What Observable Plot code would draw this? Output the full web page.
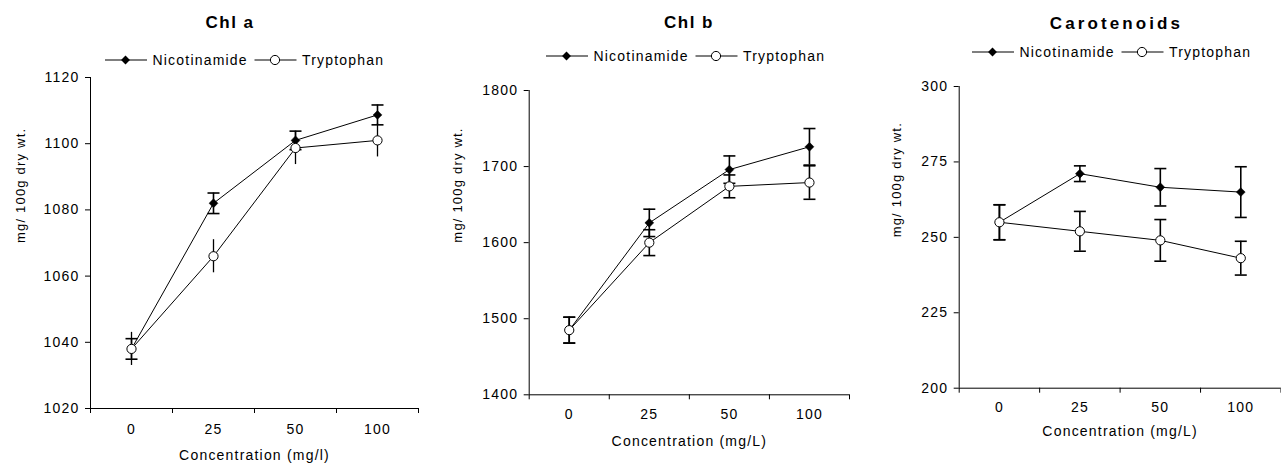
<!DOCTYPE html>
<html><head><meta charset="utf-8">
<script src="https://cdn.jsdelivr.net/npm/d3@7"></script>
<script src="https://cdn.jsdelivr.net/npm/@observablehq/plot@0.6"></script>
<style>
html,body{margin:0;padding:0;background:#fff;}
#root{position:relative;width:1281px;height:465px;overflow:hidden;font-family:"Liberation Sans",Arial,sans-serif;color:#000;}
.panel{position:absolute;top:0;}
.title{position:absolute;font-weight:bold;font-size:17px;transform:translate(-50%,-50%);white-space:nowrap;}
</style></head><body><div id="root"></div>
<script>
// ---- data ----
const concentrations = ["0", "25", "50", "100"];
const seriesNames = ["Nicotinamide", "Tryptophan"];

const chlaNic = [1038, 1082, 1101, 1108.7];
const chlaNicErr = [3.1, 3.1, 2.8, 3];
const chlaTrp = [1038, 1066, 1098.7, 1101];
const chlaTrpErr = [5, 5, 5, 5];
const chlaTicks = [1020, 1040, 1060, 1080, 1100, 1120];

const chlbNic = [1485, 1626, 1696, 1726];
const chlbNicErr = [17, 18, 18, 24];
const chlbTrp = [1485, 1600, 1674, 1679];
const chlbTrpErr = [17, 17, 15, 22];
const chlbTicks = [1400, 1500, 1600, 1700, 1800];

const carNic = [255, 271.1, 266.6, 265];
const carNicErr = [5.8, 2.6, 6.2, 8.4];
const carTrp = [255, 252, 249, 243.1];
const carTrpErr = [5.8, 6.6, 6.9, 5.6];
const carTicks = [200, 225, 250, 275, 300];

const yLabel = "mg/ 100g dry wt.";

// ---- layout / style config ----
const panels = [
  {title: "Chl a", xTitle: "Concentration (mg/l)", nic: chlaNic, nicErr: chlaNicErr, trp: chlaTrp, trpErr: chlaTrpErr, ticks: chlaTicks,
   left: 0, width: 430, mL: 90, mR: 12, mT: 77, mB: 57, titleX: 230, titleY: 23, titleLS: 1.5,
   legendX: 105, legendY: 60, trpCaps: false, xPad: 16, xTitleDy: 51, yLabelDx: 70},
  {title: "Chl b", xTitle: "Concentration (mg/L)", nic: chlbNic, nicErr: chlbNicErr, trp: chlbTrp, trpErr: chlbTrpErr, ticks: chlbTicks,
   left: 430, width: 430, mL: 98.7, mR: 11, mT: 90, mB: 70.7, titleX: 689, titleY: 23.3, titleLS: 1.5,
   legendX: 546, legendY: 56, trpCaps: true, xPad: 14, xTitleDy: 50.7, yLabelDx: 71.4},
  {title: "Carotenoids", xTitle: "Concentration (mg/L)", nic: carNic, nicErr: carNicErr, trp: carTrp, trpErr: carTrpErr, ticks: carTicks,
   left: 860, width: 421, mL: 98.7, mR: 0.5, mT: 86, mB: 77.3, titleX: 1116.5, titleY: 24, titleLS: 3.1,
   legendX: 971.7, legendY: 52.3, trpCaps: true, xPad: 14, xTitleDy: 47.3, yLabelDx: 62}
];

const root = document.getElementById("root");
const capSymbol = {draw(ctx, size) { ctx.moveTo(-6, 0); ctx.lineTo(6, 0); }};

function makePanel(p) {
  const idx = concentrations.map((c, i) => i);
  const nicRows = idx.map(i => ({i, v: p.nic[i], e: p.nicErr[i]}));
  const trpRows = idx.map(i => ({i, v: p.trp[i], e: p.trpErr[i]}));
  const [y0, y1] = d3.extent(p.ticks);
  const xLo = -0.5, xHi = concentrations.length - 0.5;
  const bounds = d3.range(concentrations.length + 1).map(k => k - 0.5);

  const errMarks = (rows, caps, sw) => {
    const m = [Plot.ruleX(rows, {x: "i", y1: d => d.v - d.e, y2: d => d.v + d.e, stroke: "black", strokeWidth: sw})];
    if (caps) {
      m.push(Plot.dot(rows, {x: "i", y: d => d.v - d.e, symbol: capSymbol, stroke: "black", strokeWidth: sw, fill: "none"}));
      m.push(Plot.dot(rows, {x: "i", y: d => d.v + d.e, symbol: capSymbol, stroke: "black", strokeWidth: sw, fill: "none"}));
    }
    return m;
  };

  const chart = Plot.plot({
    width: p.width, height: 465,
    marginLeft: p.mL, marginRight: p.mR, marginTop: p.mT, marginBottom: p.mB,
    x: {domain: [xLo, xHi]},
    y: {domain: [y0, y1]},
    style: {fontFamily: "'Liberation Sans', Arial, sans-serif", fontSize: "14px", letterSpacing: "1.2px", overflow: "visible", background: "transparent", color: "black"},
    marks: [
      Plot.ruleY([y0], {x1: xLo, x2: xHi, stroke: "black"}),
      Plot.ruleX([xLo], {y1: y0, y2: y1, stroke: "black"}),
      Plot.axisY({ticks: p.ticks, tickSize: 5, tickPadding: 6, label: null, tickFormat: d => String(d)}),
      Plot.axisX({ticks: bounds, tickSize: 5, label: null, tickFormat: () => ""}),
      Plot.axisX({ticks: idx, tickSize: 0, tickPadding: p.xPad, label: null, tickFormat: i => concentrations[i]}),
      Plot.text([p.xTitle], {frameAnchor: "bottom", dy: p.xTitleDy, text: d => d, fontSize: 14}),
      Plot.text([yLabel], {frameAnchor: "left", rotate: -90, dx: -p.yLabelDx, text: d => d, fontSize: 13, style: "letter-spacing:0.8px"}),
      Plot.line(nicRows, {x: "i", y: "v", stroke: "black", strokeWidth: 1}),
      Plot.line(trpRows, {x: "i", y: "v", stroke: "black", strokeWidth: 1}),
      ...errMarks(nicRows, true, 1.6),
      ...errMarks(trpRows, p.trpCaps, p.trpCaps ? 1.6 : 1.3),
      Plot.dot(nicRows, {x: "i", y: "v", symbol: "diamond2", fill: "black", stroke: "black", strokeWidth: 0.5, r: 4}),
      Plot.dot(trpRows, {x: "i", y: "v", symbol: "circle", fill: "white", stroke: "black", strokeWidth: 1, r: 4.6})
    ]
  });
  const wrap = document.createElement("div");
  wrap.className = "panel";
  wrap.style.left = p.left + "px";
  wrap.appendChild(chart);
  root.appendChild(wrap);

  const t = document.createElement("div");
  t.className = "title";
  t.textContent = p.title;
  t.style.left = p.titleX + "px";
  t.style.top = p.titleY + "px";
  t.style.letterSpacing = p.titleLS + "px";
  root.appendChild(t);

  // legend
  const svg = d3.create("svg").attr("width", 300).attr("height", 20)
    .style("position", "absolute").style("left", p.legendX + "px").style("top", (p.legendY - 10) + "px").style("overflow", "visible");
  const g = svg.append("g").attr("transform", "translate(0,10)");
  const items = [
    {name: seriesNames[0], x: 0, sym: "diamond"},
    {name: seriesNames[1], x: 149.5, sym: "circle"}
  ];
  items.forEach(it => {
    g.append("line").attr("x1", it.x).attr("x2", it.x + 42).attr("y1", 0).attr("y2", 0).attr("stroke", "black").attr("stroke-width", 1.2);
    if (it.sym === "diamond") {
      g.append("path").attr("d", d3.symbol(d3.symbolDiamond2, 4 * 4 * Math.PI)()).attr("transform", `translate(${it.x + 20.5},0)`).attr("fill", "black");
    } else {
      g.append("circle").attr("cx", it.x + 20.5).attr("cy", 0).attr("r", 4.6).attr("fill", "white").attr("stroke", "black");
    }
    g.append("text").attr("x", it.x + 47.5).attr("y", 0).attr("dy", "0.35em")
      .attr("font-family", "'Liberation Sans', Arial, sans-serif").attr("font-size", 14).attr("letter-spacing", "1.2px")
      .text(it.name);
  });
  root.appendChild(svg.node());
}

panels.forEach(makePanel);
</script>
</body></html>
